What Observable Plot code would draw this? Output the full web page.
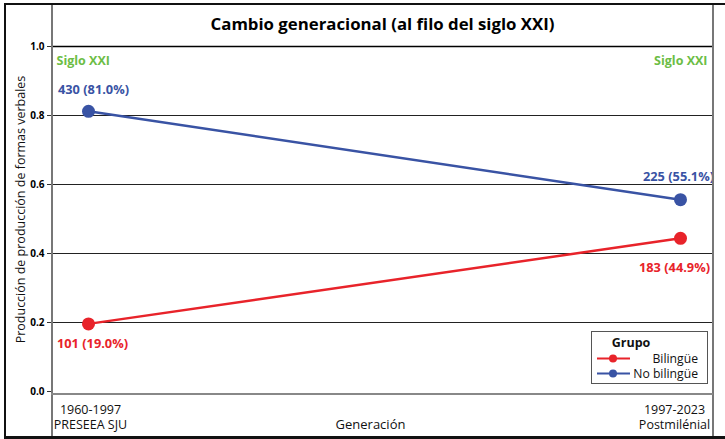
<!DOCTYPE html>
<html>
<head>
<meta charset="utf-8">
<script src="https://cdn.jsdelivr.net/npm/d3@7"></script>
<script src="https://cdn.jsdelivr.net/npm/@observablehq/plot@0.6"></script>
<style>
  html, body { margin: 0; padding: 0; background: #fff; }
  #wrap { position: relative; width: 725px; height: 439px; overflow: hidden;
          font-family: 'Open Sans', sans-serif; }
  .ln { position: absolute; }
  #legend { position: absolute; left: 591px; top: 331px; width: 115px; height: 51px;
            border: 1px solid #555; background: #fff; font-size: 12.2px; color: #111; line-height: 15px; }
  #legend .ttl { position: absolute; left: 0; width: 78px; top: 3px; text-align: center; font-weight: bold; font-size: 12.5px; }
  #legend .item { position: absolute; left: 4px; width: 102px; height: 15px; }
  #legend .item svg { position: absolute; left: 0; top: 0; }
  #legend .item span { position: absolute; right: 0; top: 0; }
</style>
</head>
<body>
<div id="wrap"></div>
<script>
// ---- data ----
const periods = ["1960-1997\nPRESEEA SJU", "1997-2023\nPostmilénial"];
const groups = ["Bilingüe", "No bilingüe"];
const groupColors = ["#e8232a", "#3953a4"];
const bilingueValues = [0.196, 0.444];
const noBilingueValues = [0.812, 0.556];
const bilingueLabels = ["101 (19.0%)", "183 (44.9%)"];
const noBilingueLabels = ["430 (81.0%)", "225 (55.1%)"];
const yTicks = [0.0, 0.2, 0.4, 0.6, 0.8, 1.0];
const gridTicks = [0.2, 0.4, 0.6, 0.8];
const titleText = "Cambio generacional (al filo del siglo XXI)";
const xLabel = "Generación";
const yLabel = "Producción de producción de formas verbales";
const cornerNote = "Siglo XXI";
const legendTitle = "Grupo";

const table = [];
periods.forEach((p, i) => {
  table.push({period: p, group: groups[0], value: bilingueValues[i], label: bilingueLabels[i], idx: i});
  table.push({period: p, group: groups[1], value: noBilingueValues[i], label: noBilingueLabels[i], idx: i});
});
const red = groupColors[0], blue = groupColors[1], green = "#6cbd45";
const bold = {fontWeight: "bold"};
const pick = (g, i) => table.filter(d => d.group === groups[g] && d.idx === i);

const chart = Plot.plot({
  width: 725, height: 439,
  marginLeft: 51, marginRight: 12, marginTop: 46, marginBottom: 45,
  style: {fontFamily: "'Open Sans', sans-serif", background: "transparent", overflow: "visible"},
  x: {type: "point", domain: periods, range: [88, 680], padding: 0},
  y: {domain: [0, 1], range: [391, 46]},
  color: {domain: groups, range: groupColors},
  marks: [
    Plot.gridY(gridTicks, {stroke: "#222", strokeOpacity: 1, strokeWidth: 1}),
    Plot.ruleY([1], {stroke: "#000", strokeWidth: 1.5}),
    Plot.axisY(yTicks, {tickFormat: d3.format(".1f"), fontWeight: "bold", fontSize: 10, tickSize: 4, tickPadding: 3, label: null, stroke: "#333"}),
    Plot.axisX([periods[0]], {tickSize: 0, tickPadding: 9, fontSize: 12.5, label: null, lineHeight: 1.2, fill: "#111", dx: 2}),
    Plot.axisX([periods[1]], {tickSize: 0, tickPadding: 9, fontSize: 12.5, label: null, lineHeight: 1.2, fill: "#111", dx: -6}),
    Plot.text([xLabel], {frameAnchor: "bottom", lineAnchor: "middle", dy: 30, dx: -12, fontSize: 13, fill: "#111"}),
    Plot.text([yLabel], {frameAnchor: "left", textAnchor: "middle", lineAnchor: "middle", rotate: -90, dx: -31, dy: -11, fontSize: 12.5, fill: "#111"}),
    Plot.text([titleText], {frameAnchor: "top", lineAnchor: "middle", dy: -22, fontSize: 16.8, fontWeight: "bold", fill: "#000"}),
    Plot.text([cornerNote], {frameAnchor: "top-left", lineAnchor: "middle", dx: 5, dy: 14, fill: green, fontSize: 12.5, ...bold}),
    Plot.text([cornerNote], {frameAnchor: "top-right", lineAnchor: "middle", dx: -6, dy: 14, fill: green, fontSize: 12.5, ...bold}),
    Plot.line(table, {x: "period", y: "value", stroke: "group", strokeWidth: 2.5}),
    Plot.dot(table, {x: "period", y: "value", fill: "group", r: 6.5}),
    Plot.text(pick(1, 0), {x: "period", y: "value", text: "label", dy: -21, dx: 5, fill: blue, fontSize: 12.8, ...bold}),
    Plot.text(pick(1, 1), {x: "period", y: "value", text: "label", dy: -23, dx: -2, fill: blue, fontSize: 12.8, ...bold}),
    Plot.text(pick(0, 0), {x: "period", y: "value", text: "label", dy: 20, dx: 4, fill: red, fontSize: 12.8, ...bold}),
    Plot.text(pick(0, 1), {x: "period", y: "value", text: "label", dy: 30, dx: -6, fill: red, fontSize: 12.8, ...bold})
  ]
});

const wrap = document.getElementById("wrap");
wrap.appendChild(chart);

// frame decorations
function line(l, t, w, h, c) {
  const d = document.createElement("div");
  d.className = "ln";
  Object.assign(d.style, {left: l + "px", top: t + "px", width: w + "px", height: h + "px", background: c});
  wrap.appendChild(d);
}
line(51, 4, 1.5, 434, "#777");
line(712, 4, 1.5, 434, "#777");
line(51, 393, 662, 2, "#888");
line(4, 3, 721, 2, "#111");
line(4, 436, 721, 2.5, "#111");
line(4, 3, 2, 435, "#111");

// legend
const lg = document.createElement("div");
lg.id = "legend";
let html = `<div class="ttl">${legendTitle}</div>`;
groups.forEach((g, i) => {
  html += `<div class="item" style="top:${19 + i * 15}px">
    <svg width="36" height="15"><line x1="1" x2="34" y1="7.5" y2="7.5" stroke="${groupColors[i]}" stroke-width="2"/>
    <circle cx="17" cy="7.5" r="4" fill="${groupColors[i]}"/></svg><span>${g}</span></div>`;
});
lg.innerHTML = html;
wrap.appendChild(lg);
</script>
</body>
</html>
